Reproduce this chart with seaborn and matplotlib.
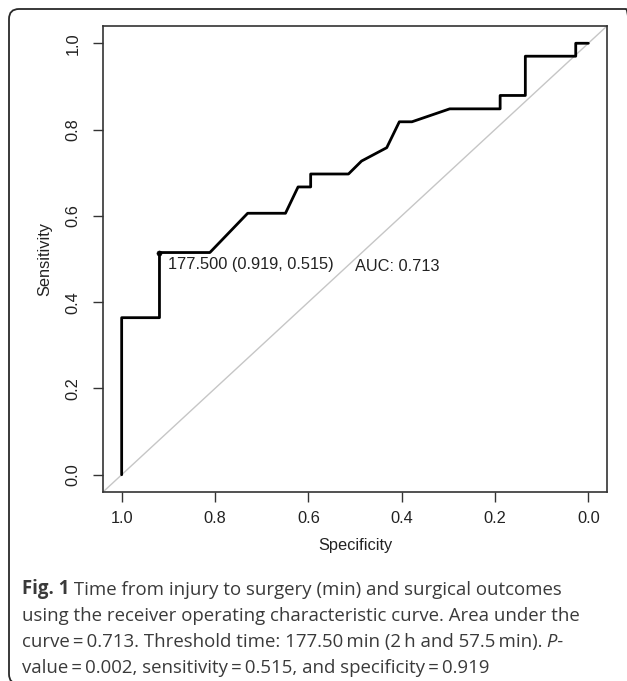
import numpy as np
import pandas as pd
import matplotlib
matplotlib.use("Agg")
import matplotlib.pyplot as plt
import seaborn as sns
from matplotlib.patches import FancyBboxPatch

# ROC curve (x axis is specificity, running 1 -> 0)
specificity = [1.000, 1.000, 0.919, 0.919, 0.811, 0.730, 0.649, 0.622, 0.595, 0.595,
               0.514, 0.486, 0.432, 0.405, 0.378, 0.297, 0.189, 0.189, 0.135, 0.135,
               0.027, 0.027, 0.000]
sensitivity = [0.000, 0.364, 0.364, 0.515, 0.515, 0.606, 0.606, 0.667, 0.667, 0.697,
               0.697, 0.727, 0.758, 0.818, 0.818, 0.848, 0.848, 0.879, 0.879, 0.970,
               0.970, 1.000, 1.000]

# best threshold and AUC
best_threshold = 177.5
best_spec = 0.919
best_sens = 0.515
auc = 0.713

ticks = [1.0, 0.8, 0.6, 0.4, 0.2, 0.0]
tick_labels = ["1.0", "0.8", "0.6", "0.4", "0.2", "0.0"]

caption_bold = "Fig. 1"
caption_lines = [
    " Time from injury to surgery (min) and surgical outcomes",
    "using the receiver operating characteristic curve. Area under the",
    "curve\u2009=\u20090.713. Threshold time: 177.50\u2009min (2\u2009h and 57.5\u2009min).",
    "value\u2009=\u20090.002, sensitivity\u2009=\u20090.515, and specificity\u2009=\u20090.919",
]
caption_italic = " P-"

sns.set_theme(style="ticks")
plt.rcParams["font.family"] = ["Liberation Sans", "DejaVu Sans"]

W, H = 627, 681
fig = plt.figure(figsize=(W / 100, H / 100), dpi=100)
ax = fig.add_axes([103 / W, 1 - 492 / H, 504 / W, 466 / H])

roc = pd.DataFrame({"Specificity": specificity, "Sensitivity": sensitivity})

# chance diagonal
ax.axline((1, 0), (0, 1), color="#c6c6c6", lw=1.0, zorder=1)

sns.lineplot(data=roc, x="Specificity", y="Sensitivity", sort=False, estimator=None,
             color="black", lw=2.0, ax=ax, zorder=3)
best = pd.DataFrame({"Specificity": [best_spec], "Sensitivity": [best_sens]})
sns.scatterplot(data=best, x="Specificity", y="Sensitivity", color="black", s=14,
                edgecolor="black", ax=ax, zorder=4)

ax.set_xlim(1.04, -0.04)
ax.set_ylim(-0.04, 1.04)
ax.set_xticks(ticks)
ax.set_xticklabels(tick_labels)
ax.set_yticks(ticks)
ax.set_yticklabels(tick_labels, rotation=90, va="center")

txt_col = "#222222"
ax.tick_params(axis="both", length=7, width=1.0, color="#333333",
               labelsize=11.8, labelcolor=txt_col)
ax.tick_params(axis="x", pad=7)
ax.tick_params(axis="y", pad=9)
for sp in ax.spines.values():
    sp.set_visible(True)
    sp.set_color("#333333")
    sp.set_linewidth(1.2)

ax.set_xlabel("Specificity", fontsize=11.8, color=txt_col, labelpad=8)
ax.set_ylabel("Sensitivity", fontsize=11.8, color=txt_col, labelpad=10)

ax.annotate(f"{best_threshold:.3f} ({best_spec:.3f}, {best_sens:.3f})",
            xy=(best_spec, best_sens), xytext=(6, -3), textcoords="offset points",
            ha="left", va="top", fontsize=11.8, color=txt_col)
ax.text(0.5, 0.5, f"AUC: {auc:.3f}", ha="left", va="top", fontsize=11.8, color=txt_col)

# caption below the plot
cap_font = ["Open Sans", "DejaVu Sans"]
cap_col = "#3a3a3a"
cap_size = 13.4
baselines = [594, 621, 647, 673]
x0 = 22 / W

t = fig.text(x0, 1 - baselines[0] / H, caption_bold, family=cap_font, weight="bold",
             fontsize=cap_size, color=cap_col, va="baseline")
ax.annotate(caption_lines[0], xy=(1, 0), xycoords=t, va="bottom", ha="left",
            family=cap_font, fontsize=cap_size, color=cap_col, annotation_clip=False)
fig.text(x0, 1 - baselines[1] / H, caption_lines[1], family=cap_font,
         fontsize=cap_size, color=cap_col, va="baseline")
t3 = fig.text(x0, 1 - baselines[2] / H, caption_lines[2], family=cap_font,
              fontsize=cap_size, color=cap_col, va="baseline")
ax.annotate(caption_italic, xy=(1, 0), xycoords=t3, va="bottom", ha="left",
            family=cap_font, style="italic", fontsize=cap_size, color=cap_col,
            annotation_clip=False)
fig.text(x0, 1 - baselines[3] / H, caption_lines[3], family=cap_font,
         fontsize=cap_size, color=cap_col, va="baseline")

# rounded frame around the figure (runs off the right and bottom edges)
frame = FancyBboxPatch((0.09, -0.03), 6.27, 6.81 - 0.09 + 0.03,
                       boxstyle="round,pad=0,rounding_size=0.1",
                       transform=fig.dpi_scale_trans, fill=False,
                       edgecolor="#2a2a2a", lw=1.3)
fig.add_artist(frame)

fig.savefig("out.png", dpi=100)
